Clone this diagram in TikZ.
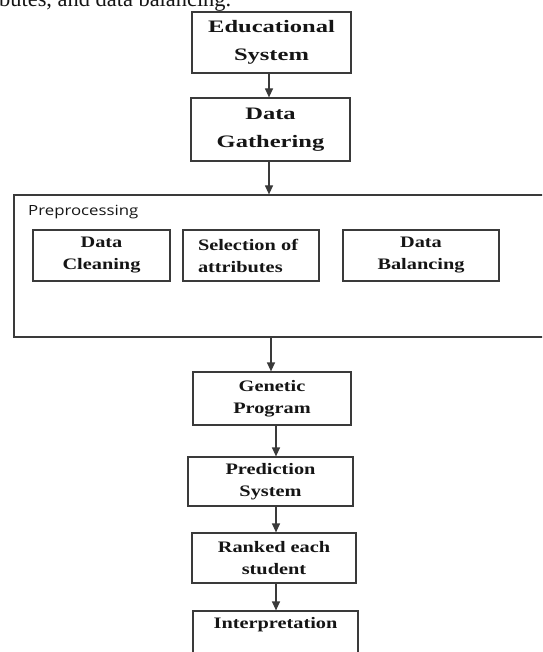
\documentclass[tikz,border=0pt]{standalone}
\usepackage{fontspec}
\setmainfont{Liberation Serif}
\newfontfamily\boxfont[FakeStretch=1.27]{Liberation Serif}
\newfontfamily\topfont[FakeStretch=1.4]{Liberation Serif}
\newfontfamily\labelfont[FakeStretch=1.2]{Open Sans}
\usetikzlibrary{arrows.meta}
\definecolor{linegray}{HTML}{3A3A3A}
\definecolor{inkblack}{HTML}{151515}
\tikzset{
  stage/.style={draw=linegray, line width=1.2pt, rectangle, inner sep=0pt, align=center,
    text=inkblack, font=\boxfont\bfseries\fontsize{16}{22}\selectfont},
  topstage/.style={stage, font=\topfont\bfseries\fontsize{17.5}{28}\selectfont},
  arr/.style={draw=linegray, line width=1.2pt, -{Triangle[length=9pt,width=8pt]}}
}
\begin{document}
\begin{tikzpicture}[x=1pt,y=-1pt]
      \useasboundingbox (0,0) rectangle (542,652);
      \clip (0,0) rectangle (542,652);
      \def\arrtop{269}
      \def\arrlow{276}

      % cut line of the page text above the figure
      \node[anchor=base west, inner sep=0pt, text=inkblack, font=\fontsize{22.4}{26}\selectfont] (pagetext) at (-1,7) {butes, and data balancing.};

      \node[topstage, minimum width=159pt, minimum height=61pt] (edu) at (271.5,42.5) {Educational\\System};
      \node[topstage, minimum width=159pt, minimum height=63pt] (gath) at (270.5,129.5) {Data\\Gathering};

      \node[draw=linegray, line width=1.2pt, rectangle, inner sep=0pt, minimum width=546pt, minimum height=142pt] (pre) at (287,266) {};
      \node[anchor=base west, inner sep=0pt, text=inkblack, font=\labelfont\fontsize{14}{16}\selectfont] (prelabel) at (28,215) {Preprocessing};
      \node[stage, minimum width=137pt, minimum height=51pt] (clean) at (101.5,255.5) {Data\\Cleaning};
      \node[stage, minimum width=136pt, minimum height=51pt, align=left, text width=106pt] (sel) at (251,255.5) {Selection of\\attributes};
      \node[stage, minimum width=156pt, minimum height=51pt] (bal) at (421,255.5) {Data\\Balancing};

      \node[stage, minimum width=158pt, minimum height=53pt] (gen) at (272,398.5) {Genetic\\Program};
      \node[stage, minimum width=165pt, minimum height=49pt] (pred) at (270.5,481.5) {Prediction\\System};
      \node[stage, minimum width=164pt, minimum height=50pt] (rank) at (274,558) {Ranked each\\student};
      \node[stage, minimum width=165pt, minimum height=52pt] (interp) at (275.5,637) {Interpretation\\\strut};

      \draw[arr] (edu.south -| \arrtop,0) -- (gath.north -| \arrtop,0);
      \draw[arr] (gath.south -| \arrtop,0) -- (pre.north -| \arrtop,0);
      \draw[arr] (pre.south -| 271,0) -- (gen.north -| 271,0);
      \draw[arr] (gen.south -| \arrlow,0) -- (pred.north -| \arrlow,0);
      \draw[arr] (pred.south -| \arrlow,0) -- (rank.north -| \arrlow,0);
      \draw[arr] (rank.south -| \arrlow,0) -- (interp.north -| \arrlow,0);
    \end{tikzpicture}
\end{document}
